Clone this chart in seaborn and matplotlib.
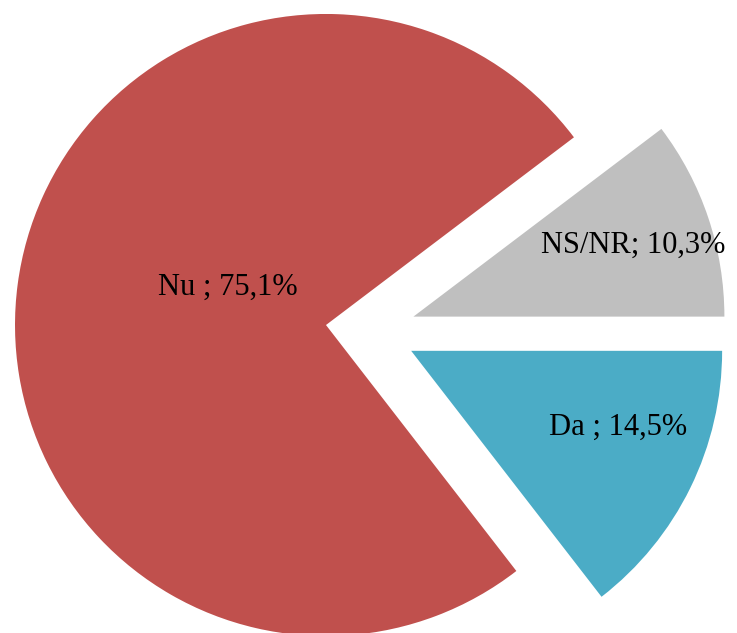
import matplotlib
matplotlib.use('Agg')
import matplotlib.pyplot as plt
import seaborn as sns

# Data (counter-clockwise from 3 o'clock)
categories = ['NS/NR', 'Nu', 'Da']
values = [10.3, 75.1, 14.5]
separators = ['; ', ' ; ', ' ; ']
colors = ['#BFBFBF', '#C0504D', '#4BACC6']

# label anchor points (data units, radius = 1), baseline-centred
label_pos = [(0.845, 0.250), (-0.460, 0.116), (0.794, -0.334)]

sns.set_theme(style='white')
plt.rcParams['font.family'] = ['Liberation Serif', 'DejaVu Serif']

fig = plt.figure(figsize=(7.37, 6.33), dpi=100)
ax = fig.add_axes([0, 0, 1, 1])

palette = sns.color_palette(colors)
ax.pie(values, colors=palette, startangle=0, counterclock=True,
       explode=[0.145] * len(values), radius=1.0,
       wedgeprops=dict(linewidth=0))

for cat, val, sep, (x, y) in zip(categories, values, separators, label_pos):
    txt = f'{cat}{sep}{val:.1f}%'.replace('.', ',')
    ax.text(x, y, txt, ha='center', va='baseline', fontsize=22, color='black')

ax.set_xlim(-1.192, 1.178)
ax.set_ylim(-0.971, 1.064)
ax.set_aspect('auto')
ax.axis('off')

fig.savefig('out.png', dpi=100, facecolor='white')
plt.close(fig)
